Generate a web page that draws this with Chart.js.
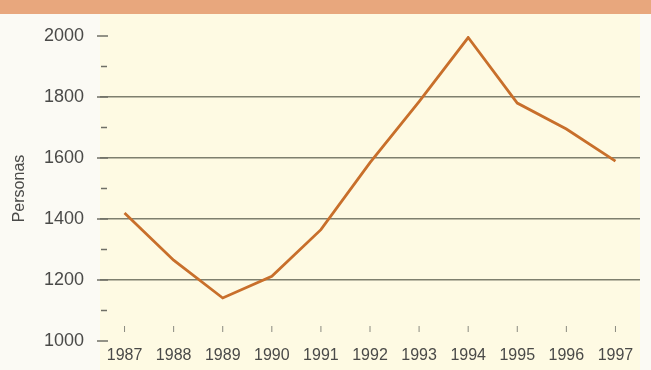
<!DOCTYPE html>
<html>
<head>
<meta charset="utf-8">
<script src="https://cdn.jsdelivr.net/npm/chart.js@4.4.1/dist/chart.umd.min.js"></script>
<style>
  html, body { margin: 0; padding: 0; background: #fbfaf4; }
  #banda { width: 651px; height: 14px; background: #e8a77d; }
  #caja { width: 651px; height: 356px; position: relative; }
</style>
</head>
<body>
<div id="banda"></div>
<div id="caja"><canvas id="grafico"></canvas></div>
<script>
// datos
const anios = ["1987", "1988", "1989", "1990", "1991", "1992", "1993", "1994", "1995", "1996", "1997"];
const personas = [1420, 1265, 1141, 1212, 1365, 1585, 1785, 1995, 1780, 1695, 1590];
const lineasGuia = [1200, 1400, 1600, 1800];

// fondo crema de la zona del grafico y las marquitas de los ejes
const decorado = {
  id: 'decorado',
  beforeDraw(chart) {
    const { ctx, chartArea } = chart;
    ctx.save();
    ctx.fillStyle = '#fefae3';
    ctx.fillRect(chartArea.left, 0, chartArea.right - chartArea.left, chart.height);
    ctx.restore();
  },
  afterDraw(chart) {
    const { ctx, chartArea, scales } = chart;
    ctx.save();
    ctx.strokeStyle = '#6f6f66';
    ctx.lineWidth = 1.5;
    scales.y.ticks.forEach(t => {
      const y = scales.y.getPixelForValue(t.value);
      const mayor = t.value % 200 === 0;
      ctx.beginPath();
      ctx.moveTo(chartArea.left + (mayor ? -3 : 1), y);
      ctx.lineTo(chartArea.left + (mayor ? 8 : 7), y);
      ctx.stroke();
    });
    ctx.strokeStyle = '#8a8a80';
    ctx.lineWidth = 1;
    anios.forEach((a, i) => {
      const x = scales.x.getPixelForValue(i);
      ctx.beginPath();
      ctx.moveTo(x, chartArea.bottom - 15);
      ctx.lineTo(x, chartArea.bottom - 9);
      ctx.stroke();
    });
    ctx.restore();
  }
};

new Chart(document.getElementById('grafico'), {
  type: 'line',
  data: {
    labels: anios,
    datasets: [{
      data: personas,
      borderColor: '#c86f2b',
      borderWidth: 2.8,
      pointRadius: 0,
      tension: 0
    }]
  },
  options: {
    responsive: true,
    maintainAspectRatio: false,
    animation: false,
    layout: { padding: { left: 0, right: 11, top: 22, bottom: 7 } },
    plugins: { legend: { display: false }, tooltip: { enabled: false } },
    scales: {
      x: {
        offset: true,
        afterFit(scale) { scale.height = 22; },
        grid: { display: false, tickLength: 0 },
        border: { display: false },
        ticks: {
          color: '#4a4a48',
          font: { family: '"Liberation Sans Narrow", "Liberation Sans", Arial', size: 16 },
          padding: 5,
          maxRotation: 0,
          autoSkip: false
        }
      },
      y: {
        min: 1000,
        max: 2000,
        afterFit(scale) {
          scale.width = 100;
          scale.paddingTop = 0;
          scale.paddingBottom = 0;
        },
        border: { display: false },
        grid: {
          drawTicks: false,
          lineWidth: 1.6,
          color: ctx => lineasGuia.includes(ctx.tick.value) ? '#7e7f6e' : 'rgba(0,0,0,0)'
        },
        ticks: {
          stepSize: 100,
          padding: 16,
          color: '#4a4a48',
          font: { family: '"Liberation Sans", Arial', size: 18 },
          callback: v => v % 200 === 0 ? v : ''
        },
        title: {
          display: true,
          text: 'Personas',
          color: '#4a4a48',
          font: { family: '"Liberation Sans", Arial', size: 16 },
          padding: { top: 10, bottom: 0 }
        }
      }
    }
  },
  plugins: [decorado]
});
</script>
</body>
</html>
